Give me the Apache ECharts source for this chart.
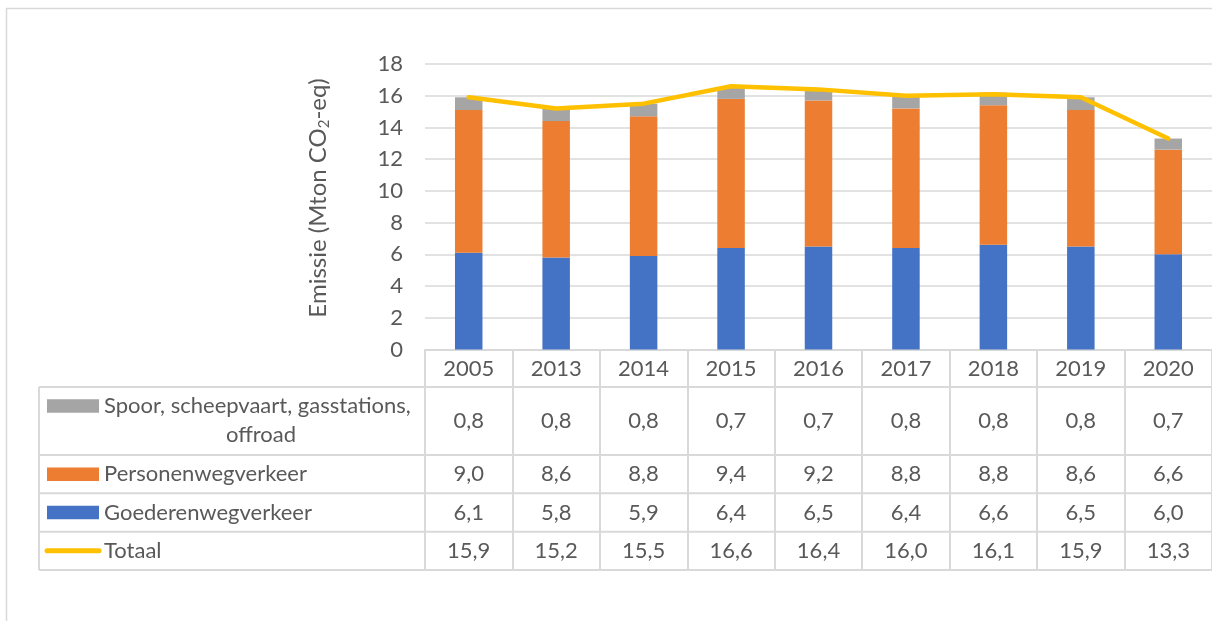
<!DOCTYPE html>
<html>
<head>
<meta charset="utf-8">
<script src="https://cdn.jsdelivr.net/npm/echarts@6/dist/echarts.min.js"></script>
<style>
  html, body { margin: 0; padding: 0; background: #ffffff; }
  #chart { width: 1212px; height: 621px; }
</style>
</head>
<body>
<div id="chart"></div>
<script>
// Emissions from mobility, Mton CO2-eq per year
const years = ['2005', '2013', '2014', '2015', '2016', '2017', '2018', '2019', '2020'];
const goederen = [6.1, 5.8, 5.9, 6.4, 6.5, 6.4, 6.6, 6.5, 6.0];
const personen = [9.0, 8.6, 8.8, 9.4, 9.2, 8.8, 8.8, 8.6, 6.6];
const spoor = [0.8, 0.8, 0.8, 0.7, 0.7, 0.8, 0.8, 0.8, 0.7];
const totaal = [15.9, 15.2, 15.5, 16.6, 16.4, 16.0, 16.1, 15.9, 13.3];

const nameSpoor = 'Spoor, scheepvaart, gasstations, offroad';
const namePersonen = 'Personenwegverkeer';
const nameGoederen = 'Goederenwegverkeer';
const nameTotaal = 'Totaal';

const FONT = 'Lato, "Open Sans", sans-serif';
const FS = 22;
const TEXT = '#595959';
const LINE = '#d9d9d9';
const C_GREY = '#a5a5a5', C_ORANGE = '#ed7d31', C_BLUE = '#4472c4', C_GOLD = '#ffc000';

// plot geometry
const GRID_LEFT = 425, GRID_TOP = 64, GRID_W = 791.5, GRID_H = 285.5;
const AXIS_Y = GRID_TOP + GRID_H;
// data table rows (top edge of each row)
const rowEdges = [387, 455, 493.3, 531.7, 570];
const rowCenter = i => (rowEdges[i] + rowEdges[i + 1]) / 2;
const TABLE_LEFT = 39;

const fmt = v => v.toFixed(1).replace('.', ',');

// one extra category axis per table row, its labels are the row values
function rowAxis(values, rowIdx) {
  return {
    type: 'category', gridIndex: 0, position: 'bottom', data: years,
    offset: rowCenter(rowIdx) - AXIS_Y,
    axisLine: { show: false }, axisTick: { show: false }, splitLine: { show: false },
    axisLabel: {
      margin: 0, verticalAlign: 'middle', fontSize: FS, color: TEXT, fontFamily: FONT,
      interval: 0, formatter: (v, i) => fmt(values[i])
    }
  };
}

const chart = echarts.init(document.getElementById('chart'), null, { renderer: 'canvas' });

const graphics = [];
// outer frame (left and top edges)
graphics.push({
  type: 'polyline', silent: true,
  shape: { points: [[6.5, 640], [6.5, 8.5], [1230, 8.5]] },
  style: { stroke: LINE, lineWidth: 1.5, fill: null }
});
// y axis title
graphics.push({
  type: 'text', x: 318, y: 198, rotation: Math.PI / 2,
  style: {
    text: '{a|Emissie (Mton CO}{s|2}{a|-eq)}',
    align: 'center', verticalAlign: 'middle',
    rich: {
      a: { fontSize: 24, fontFamily: FONT, fill: TEXT, lineHeight: 28 },
      s: { fontSize: 15, fontFamily: FONT, fill: TEXT, lineHeight: 28, padding: [12, 0, 0, 0] }
    }
  }
});
// table horizontal rules and left border
rowEdges.forEach(y => graphics.push({
  type: 'line', silent: true,
  shape: { x1: TABLE_LEFT, y1: y, x2: 1230, y2: y },
  style: { stroke: LINE, lineWidth: 2 }
}));
graphics.push({
  type: 'line', silent: true,
  shape: { x1: TABLE_LEFT, y1: rowEdges[0], x2: TABLE_LEFT, y2: rowEdges[4] },
  style: { stroke: LINE, lineWidth: 2 }
});
// legend keys
const KEY_X = 47, KEY_W = 52, KEY_H = 13.5;
graphics.push({ type: 'rect', shape: { x: KEY_X, y: 406 - KEY_H / 2, width: KEY_W, height: KEY_H }, style: { fill: C_GREY } });
graphics.push({ type: 'rect', shape: { x: KEY_X, y: rowCenter(1) - KEY_H / 2, width: KEY_W, height: KEY_H }, style: { fill: C_ORANGE } });
graphics.push({ type: 'rect', shape: { x: KEY_X, y: rowCenter(2) - KEY_H / 2, width: KEY_W, height: KEY_H }, style: { fill: C_BLUE } });
graphics.push({
  type: 'line', shape: { x1: 47, y1: rowCenter(3), x2: 99, y2: rowCenter(3) },
  style: { stroke: C_GOLD, lineWidth: 5, lineCap: 'round' }
});
// legend labels
const lblStyle = { fontSize: FS, fontFamily: FONT, fill: TEXT, verticalAlign: 'middle' };
const spoorWords = nameSpoor.split(' ');
graphics.push({ type: 'text', x: 104, y: 406, style: Object.assign({ text: spoorWords.slice(0, 3).join(' '), align: 'left' }, lblStyle) });
graphics.push({ type: 'text', x: 261, y: 435, style: Object.assign({ text: spoorWords.slice(3).join(' '), align: 'center' }, lblStyle) });
graphics.push({ type: 'text', x: 104, y: rowCenter(1), style: Object.assign({ text: namePersonen, align: 'left' }, lblStyle) });
graphics.push({ type: 'text', x: 104, y: rowCenter(2), style: Object.assign({ text: nameGoederen, align: 'left' }, lblStyle) });
graphics.push({ type: 'text', x: 104, y: rowCenter(3), style: Object.assign({ text: nameTotaal, align: 'left' }, lblStyle) });

chart.setOption({
  animation: false,
  backgroundColor: '#ffffff',
  grid: { left: GRID_LEFT, top: GRID_TOP, width: GRID_W, height: GRID_H, containLabel: false },
  xAxis: [
    {
      type: 'category', gridIndex: 0, position: 'bottom', data: years,
      axisLine: { show: true, lineStyle: { color: LINE, width: 2 } },
      axisTick: { show: true, alignWithLabel: false, length: rowEdges[4] - AXIS_Y, lineStyle: { color: LINE, width: 2 } },
      axisLabel: { margin: 19, verticalAlign: 'middle', fontSize: FS, color: TEXT, fontFamily: FONT, interval: 0 },
      splitLine: { show: false }
    },
    rowAxis(spoor, 0),
    rowAxis(personen, 1),
    rowAxis(goederen, 2),
    rowAxis(totaal, 3)
  ],
  yAxis: {
    type: 'value', min: 0, max: 18, interval: 2,
    axisLine: { show: false }, axisTick: { show: false },
    axisLabel: { fontSize: FS, color: TEXT, fontFamily: FONT, margin: 22 },
    splitLine: { lineStyle: { color: LINE, width: 1.5 } }
  },
  series: [
    { name: nameGoederen, type: 'bar', stack: 'em', data: goederen, barWidth: 27.5, itemStyle: { color: C_BLUE } },
    { name: namePersonen, type: 'bar', stack: 'em', data: personen, barWidth: 27.5, itemStyle: { color: C_ORANGE } },
    { name: nameSpoor, type: 'bar', stack: 'em', data: spoor, barWidth: 27.5, itemStyle: { color: C_GREY } },
    {
      name: nameTotaal, type: 'line', data: totaal, showSymbol: false, z: 5,
      lineStyle: { color: C_GOLD, width: 4.5, cap: 'round', join: 'round' }
    }
  ],
  graphic: graphics
});
</script>
</body>
</html>
